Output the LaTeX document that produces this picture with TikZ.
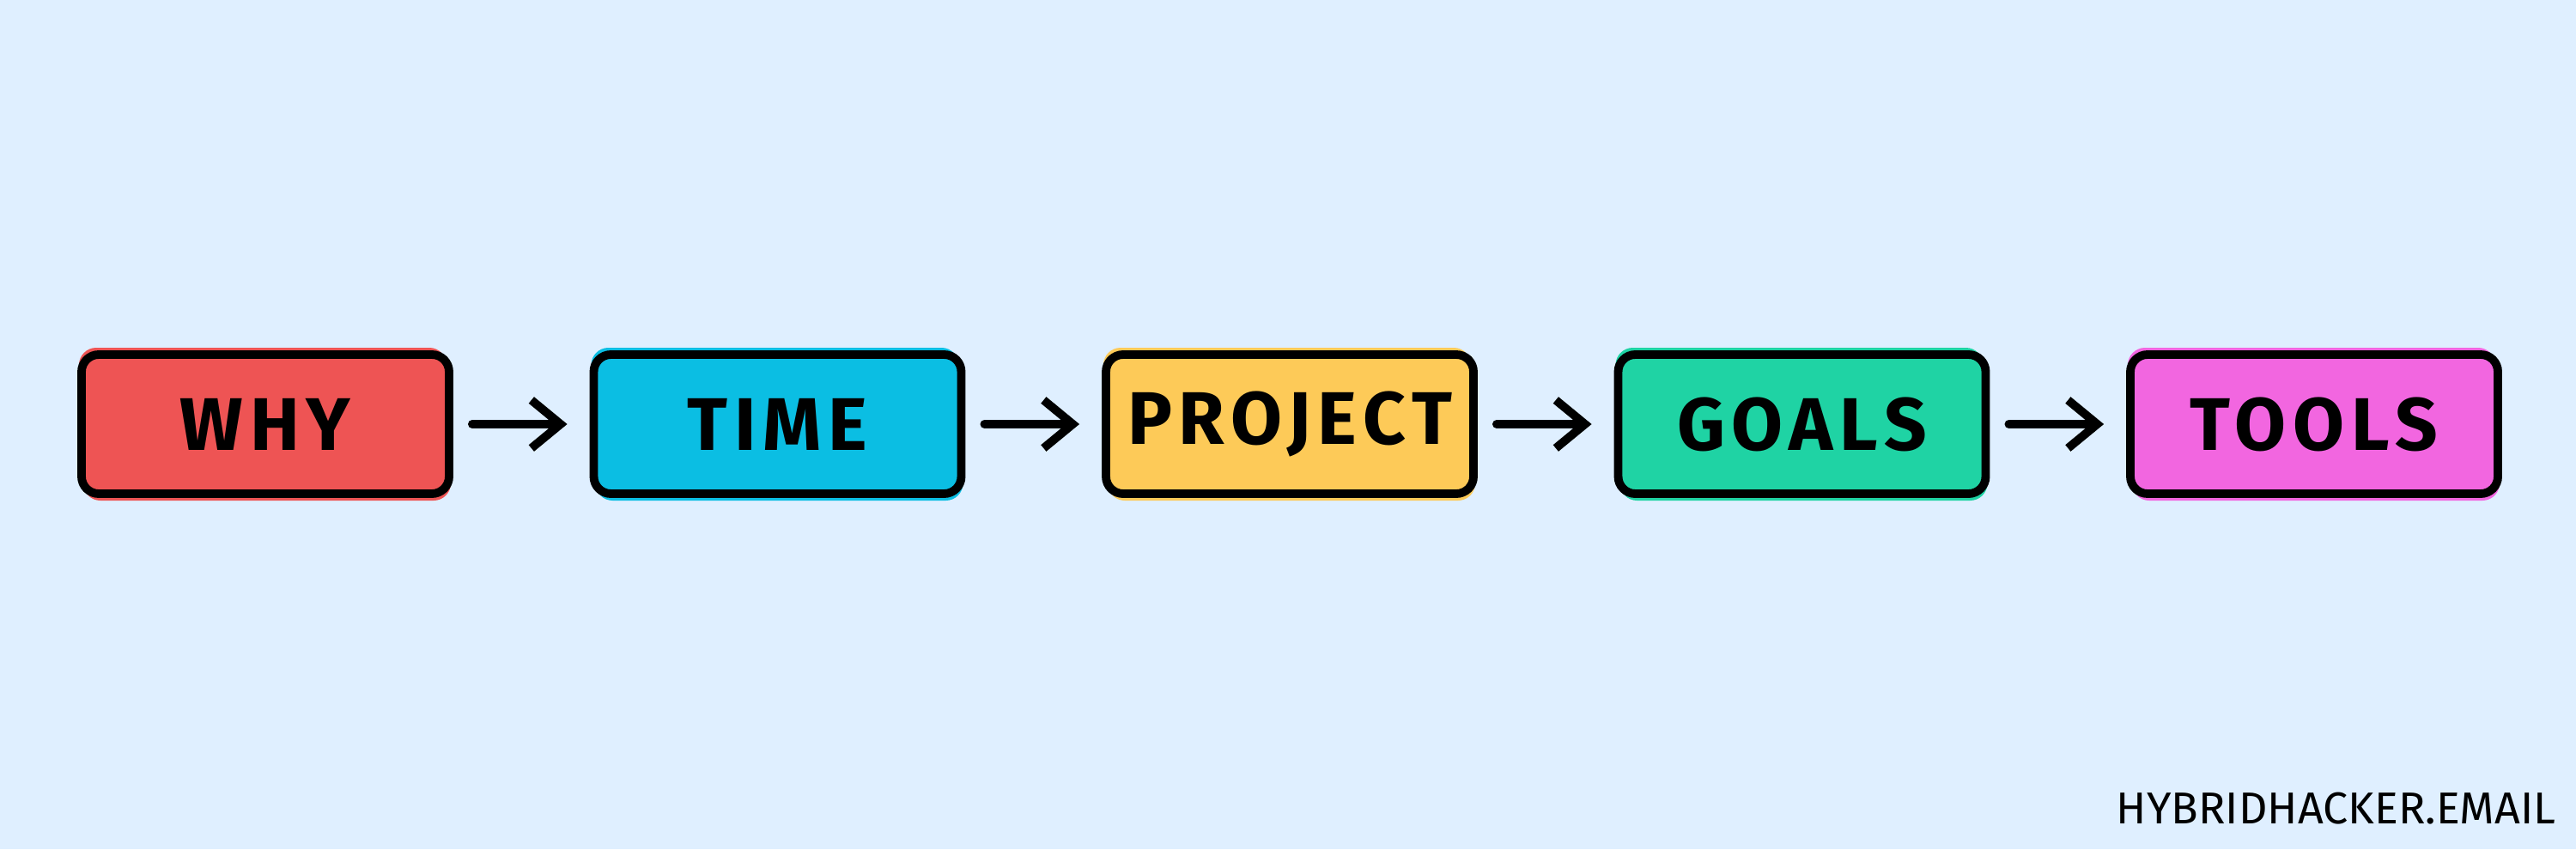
\documentclass[tikz,border=0pt]{standalone}
\usepackage{fontspec}
\setmainfont{Fira Sans}
\newfontfamily\labelfont[LetterSpace=9]{Fira Sans}
\usepackage{tikz}
\usetikzlibrary{calc}
\usetikzlibrary{arrows.meta}
\definecolor{bgblue}{RGB}{223,239,255}
\definecolor{whyred}{RGB}{238,84,84}
\definecolor{timeblue}{RGB}{11,190,227}
\definecolor{projyellow}{RGB}{253,202,88}
\definecolor{goalgreen}{RGB}{31,211,164}
\definecolor{toolpink}{RGB}{242,102,224}
\tikzset{
    stepbox/.style={draw=black, line width=2.8pt, rounded corners=0.2cm, fill=#1,
        minimum width=4.28cm, minimum height=1.62cm, inner sep=0pt,
        font=\labelfont\fontsize{24.7}{30}\selectfont\bfseries,
        preaction={draw=none, fill=#1, transform canvas={xshift=-0.03cm, yshift=0.08cm}},
        preaction={draw=none, fill=#1, transform canvas={xshift=0.02cm, yshift=-0.08cm}}},
    flow/.style={line width=2.8pt, line cap=round, line join=round,
        -{Straight Barb[length=3.4mm, width=5.6mm, line width=2.8pt]},
        shorten <=0.22cm, shorten >=0.26cm}
}
\begin{document}
\begin{tikzpicture}
    \fill[bgblue] (0,0) rectangle (30,9.89);
    \useasboundingbox (0,0) rectangle (30,9.89);
    % the five steps
    \node[stepbox=whyred] (why) at (3.09,4.95) {WHY};
    \node[stepbox=timeblue] (time) at (9.055,4.95) {TIME};
    \node[stepbox=projyellow] (project) at (15.02,4.95) {PROJECT};
    \node[stepbox=goalgreen] (goals) at (20.985,4.95) {GOALS};
    \node[stepbox=toolpink] (tools) at (26.95,4.95) {TOOLS};
    \draw[flow] (why) -- (time);
    \draw[flow] (time) -- (project);
    \draw[flow] (project) -- (goals);
    \draw[flow] (goals) -- (tools);
    \node[anchor=east, inner sep=0pt, font=\fontsize{14.8}{18}\selectfont] (site) at (29.77,0.47) {HYBRIDHACKER.EMAIL};
\end{tikzpicture}
\end{document}
